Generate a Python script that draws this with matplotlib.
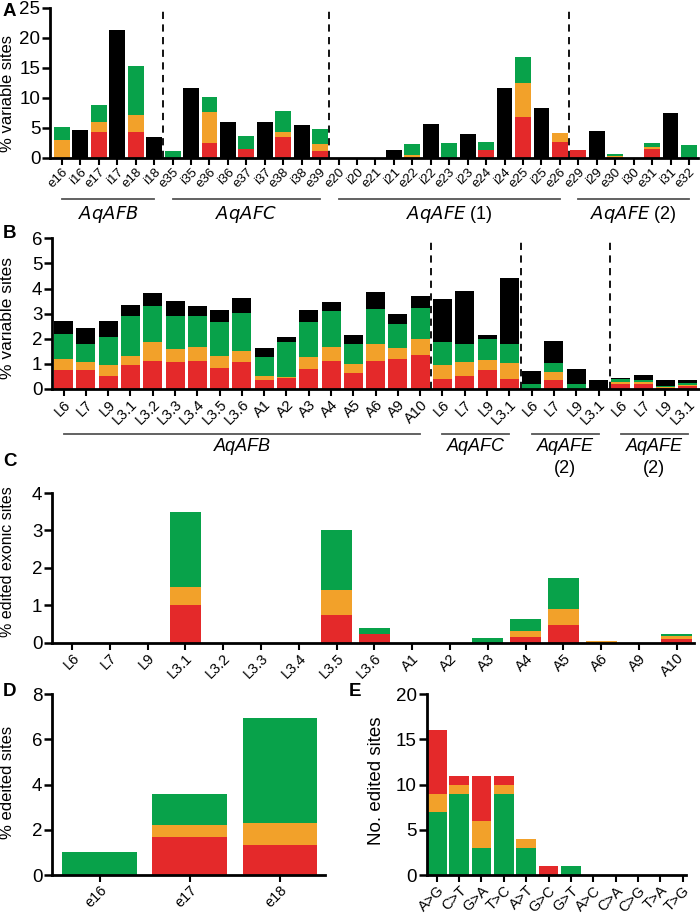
import matplotlib.pyplot as plt
import numpy as np

plt.rcParams['font.family'] = ['Liberation Sans', 'DejaVu Sans']

RED = '#e4292a'
ORANGE = '#f2a12a'
GREEN = '#08a24a'
BLACK = '#000000'

# Panel A
a_labels = ['e16', 'i16', 'e17', 'i17', 'e18', 'i18',
            'e35', 'i35', 'e36', 'i36', 'e37', 'i37', 'e38', 'i38', 'e39',
            'e20', 'i20', 'e21', 'i21', 'e22', 'i22', 'e23', 'i23', 'e24', 'i24', 'e25', 'i25', 'e26',
            'e29', 'i29', 'e30', 'i30', 'e31', 'i31', 'e32']
a_red = [0, 0, 4.4, 0, 4.4, 0,
         0, 0, 2.5, 0, 1.45, 0, 3.45, 0, 1.2,
         0, 0, 0, 0, 0, 0, 0, 0, 1.33, 0, 6.9, 0, 2.7,
         1.33, 0, 0, 0, 1.55, 0, 0]
a_orange = [3.0, 0, 1.65, 0, 2.7, 0,
            0, 0, 5.2, 0, 0, 0, 0.95, 0, 1.2,
            0, 0, 0, 0, 0.5, 0, 0, 0, 0, 0, 5.6, 0, 1.4,
            0, 0, 0.3, 0, 0.35, 0, 0]
a_green = [2.1, 0, 2.75, 0, 8.2, 0,
           1.1, 0, 2.5, 0, 2.2, 0, 3.5, 0, 2.5,
           0, 0, 0, 0, 1.9, 0, 2.45, 0, 1.33, 0, 4.3, 0, 0,
           0, 0, 0.4, 0, 0.6, 0, 2.1]
a_black = [0, 4.7, 0, 21.3, 0, 3.5,
           0, 11.7, 0, 6.0, 0, 6.0, 0, 5.55, 0,
           0, 0, 0, 1.33, 0, 5.6, 0, 3.95, 0, 11.7, 0, 8.3, 0,
           0, 4.5, 0, 0, 0, 7.45, 0]
a_groups = [('AqAFB', '', 0, 5), ('AqAFC', '', 6, 14), ('AqAFE', ' (1)', 15, 27), ('AqAFE', ' (2)', 28, 34)]
a_dividers = [5.5, 14.5, 27.5]

# Panel B
b_labels = ['L6', 'L7', 'L9', 'L3.1', 'L3.2', 'L3.3', 'L3.4', 'L3.5', 'L3.6',
            'A1', 'A2', 'A3', 'A4', 'A5', 'A6', 'A9', 'A10',
            'L6', 'L7', 'L9', 'L3.1', 'L6', 'L7', 'L9', 'L3.1', 'L6', 'L7', 'L9', 'L3.1']
b_red = [0.76, 0.76, 0.53, 0.94, 1.12, 1.06, 1.12, 0.85, 1.06,
         0.36, 0.43, 0.8, 1.12, 0.63, 1.12, 1.18, 1.37,
         0.4, 0.53, 0.76, 0.4, 0, 0.36, 0, 0, 0.2, 0.2, 0.03, 0.12]
b_orange = [0.42, 0.3, 0.43, 0.37, 0.74, 0.54, 0.57, 0.46, 0.47,
            0.16, 0.04, 0.46, 0.56, 0.37, 0.68, 0.45, 0.6,
            0.57, 0.56, 0.4, 0.62, 0, 0.3, 0, 0, 0.08, 0.06, 0.03, 0.05]
b_green = [1.0, 0.74, 1.1, 1.59, 1.44, 1.3, 1.21, 1.36, 1.48,
           0.75, 1.39, 1.41, 1.42, 0.8, 1.39, 0.97, 1.27,
           0.89, 0.69, 0.83, 0.76, 0.18, 0.36, 0.2, 0, 0.1, 0.1, 0.05, 0.08]
b_black = [0.53, 0.64, 0.65, 0.45, 0.54, 0.6, 0.4, 0.46, 0.6,
           0.38, 0.2, 0.46, 0.35, 0.34, 0.69, 0.37, 0.48,
           1.71, 2.14, 0.15, 2.63, 0.55, 0.88, 0.6, 0.36, 0.07, 0.18, 0.26, 0.1]
b_groups = [('AqAFB', 0, 16, False), ('AqAFC', 17, 20, False), ('AqAFE', 21, 24, True), ('AqAFE', 25, 28, True)]
b_dividers = [16.5, 20.5, 24.5]

# Panel C
c_labels = ['L6', 'L7', 'L9', 'L3.1', 'L3.2', 'L3.3', 'L3.4', 'L3.5', 'L3.6',
            'A1', 'A2', 'A3', 'A4', 'A5', 'A6', 'A9', 'A10']
c_red = [0, 0, 0, 1.0, 0, 0, 0, 0.75, 0.24, 0, 0, 0, 0.15, 0.48, 0, 0, 0.1]
c_orange = [0, 0, 0, 0.5, 0, 0, 0, 0.65, 0, 0, 0, 0, 0.16, 0.41, 0.06, 0, 0.07]
c_green = [0, 0, 0, 2.0, 0, 0, 0, 1.6, 0.15, 0, 0, 0.14, 0.33, 0.84, 0, 0, 0.06]

# Panel D
d_labels = ['e16', 'e17', 'e18']
d_red = [0, 1.7, 1.33]
d_orange = [0, 0.5, 0.97]
d_green = [1.0, 1.37, 4.67]

# Panel E
e_labels = ['A>G', 'C>T', 'G>A', 'T>C', 'A>T', 'G>C', 'G>T', 'A>C', 'C>A', 'C>G', 'T>A', 'T>G']
e_green = [7, 9, 3, 9, 3, 0, 1, 0, 0, 0, 0, 0]
e_orange = [2, 1, 3, 1, 1, 0, 0, 0, 0, 0, 0, 0]
e_red = [7, 1, 5, 1, 0, 1, 0, 0, 0, 0, 0, 0]


def stacked(ax, layers, colors, width):
    x = np.arange(len(layers[0]))
    bottom = np.zeros(len(x))
    for vals, col in zip(layers, colors):
        vals = np.array(vals, dtype=float)
        ax.bar(x, vals, width, bottom=bottom, color=col, linewidth=0)
        bottom += vals
    return x


def style(ax, ylabel, xtick_fs, ylab_fs, lx, ly):
    for s in ['top', 'right']:
        ax.spines[s].set_visible(False)
    for s in ['left', 'bottom']:
        ax.spines[s].set_linewidth(2)
    ax.tick_params(axis='y', labelsize=13.5, width=1.8, length=6, pad=1)
    ax.tick_params(axis='x', labelsize=xtick_fs, width=1.5, length=5, pad=1)
    ax.set_ylabel(ylabel, fontsize=ylab_fs)
    ax.yaxis.set_label_coords(lx, ly)
    for lab in ax.get_xticklabels():
        lab.set_rotation(45)
        lab.set_ha('right')
        lab.set_va('top')
        lab.set_rotation_mode('anchor')


fig = plt.figure(figsize=(7, 9.13), dpi=100)

# ---- A
axA = fig.add_axes([0.0714, 0.827, 0.926, 0.1643])
x = stacked(axA, [a_red, a_orange, a_green, a_black], [RED, ORANGE, GREEN, BLACK], 0.86)
axA.set_xticks(x)
axA.set_xticklabels(a_labels)
axA.set_xlim(-0.65, 34.5)
axA.set_ylim(0, 25)
axA.set_yticks([0, 5, 10, 15, 20, 25])
style(axA, '% variable sites', 9.5, 12, -0.054, 0.43)
for d in a_dividers:
    axA.axvline(d, color='black', ls=(0, (4, 3)), lw=1.3)
for name, suffix, i0, i1 in a_groups:
    axA.plot([i0, i1], [-0.273, -0.273], color='#555555', lw=1.3,
             transform=axA.get_xaxis_transform(), clip_on=False)
    axA.text((i0 + i1) / 2, -0.38, r'$\it{' + name + '}$' + suffix, ha='center', va='center',
             fontsize=13, transform=axA.get_xaxis_transform())

# ---- B
axB = fig.add_axes([0.0743, 0.574, 0.924, 0.165])
x = stacked(axB, [b_red, b_orange, b_green, b_black], [RED, ORANGE, GREEN, BLACK], 0.85)
axB.set_xticks(x)
axB.set_xticklabels(b_labels)
axB.set_xlim(-0.52, 28.5)
axB.set_ylim(0, 6)
axB.set_yticks(range(7))
style(axB, '% variable sites', 10.5, 12.5, -0.057, 0.47)
for d in b_dividers:
    axB.axvline(d, color='black', ls=(0, (4, 3)), lw=1.3)
for name, i0, i1, two in b_groups:
    axB.plot([i0, i1], [-0.299, -0.299], color='#555555', lw=1.3,
             transform=axB.get_xaxis_transform(), clip_on=False)
    axB.text((i0 + i1) / 2, -0.385, name, ha='center', va='center', style='italic',
             fontsize=13, transform=axB.get_xaxis_transform())
    if two:
        axB.text((i0 + i1) / 2, -0.53, '(2)', ha='center', va='center',
                 fontsize=13, transform=axB.get_xaxis_transform())

# ---- C
axC = fig.add_axes([0.0743, 0.296, 0.917, 0.164])
x = stacked(axC, [c_red, c_orange, c_green], [RED, ORANGE, GREEN], 0.82)
axC.set_xticks(x)
axC.set_xticklabels(c_labels)
axC.set_xlim(-0.53, 16.45)
axC.set_ylim(0, 4)
axC.set_yticks(range(5))
style(axC, '% edited exonic sites', 10.5, 11.5, -0.058, 0.54)

# ---- D
axD = fig.add_axes([0.0743, 0.0416, 0.39, 0.198])
x = stacked(axD, [d_red, d_orange, d_green], [RED, ORANGE, GREEN], 0.83)
axD.set_xticks(x)
axD.set_xticklabels(d_labels)
axD.set_xlim(-0.53, 2.5)
axD.set_ylim(0, 8)
axD.set_yticks([0, 2, 4, 6, 8])
style(axD, '% edeited sites', 10.5, 12, -0.136, 0.51)

# ---- E
axE = fig.add_axes([0.6096, 0.0416, 0.371, 0.198])
x = stacked(axE, [e_green, e_orange, e_red], [GREEN, ORANGE, RED], 0.88)
axE.set_xticks(x)
axE.set_xticklabels(e_labels)
axE.set_xlim(-0.45, 11.17)
axE.set_ylim(0, 20)
axE.set_yticks([0, 5, 10, 15, 20])
style(axE, 'No. edited sites', 10.5, 13.5, -0.16, 0.52)

for letter, px, py in [('A', 3, 12), ('B', 3, 234), ('C', 3, 462), ('D', 3, 692), ('E', 349, 692)]:
    fig.text(px / 700, 1 - py / 913, letter, fontsize=13.5, fontweight='bold', ha='left', va='center')

fig.savefig('out.png', dpi=100)
